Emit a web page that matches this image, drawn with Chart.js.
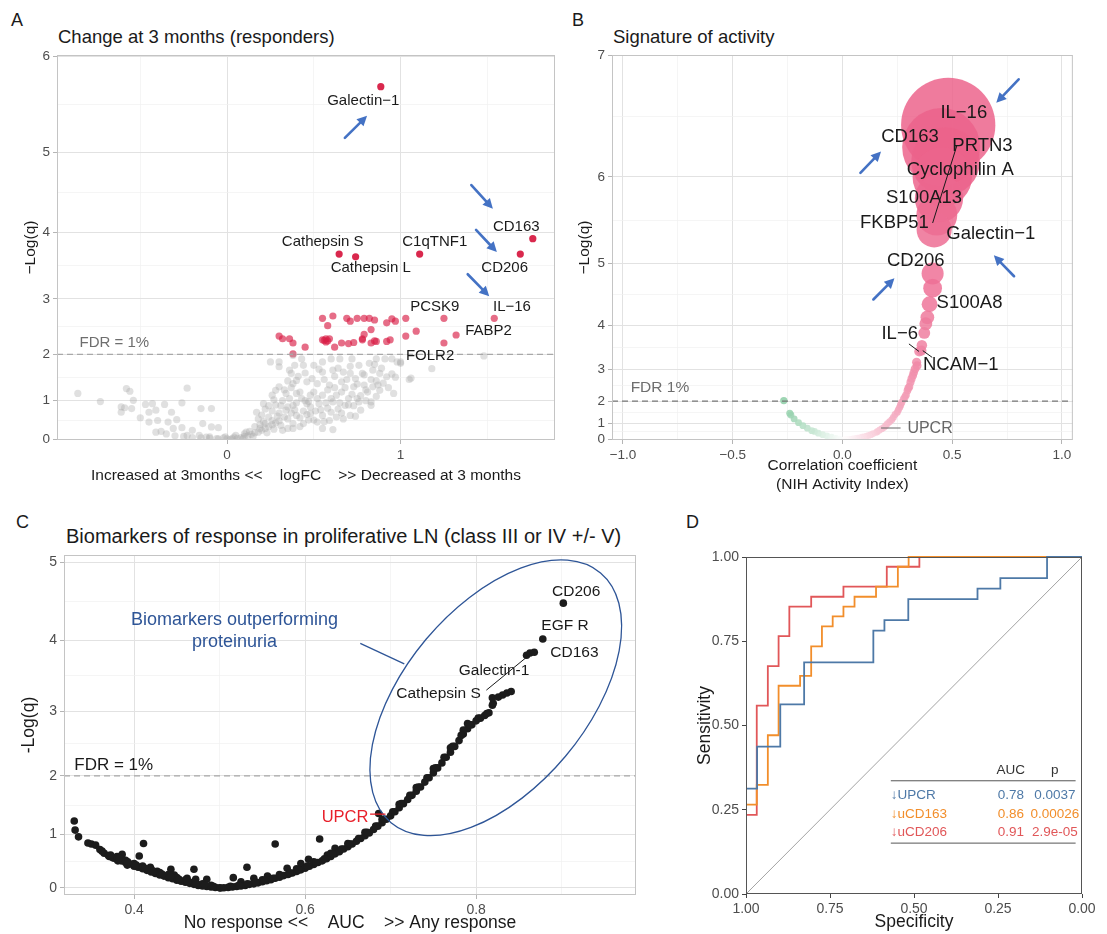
<!DOCTYPE html>
<html>
<head>
<meta charset="utf-8">
<script src="https://cdn.jsdelivr.net/npm/chart.js@4.4.1/dist/chart.umd.min.js"></script>
<style>
  body { margin: 0; background: #fff; width: 1107px; height: 934px; overflow: hidden; position: relative;
         font-family: "Liberation Sans", Arial, sans-serif; color: #1a1a1a; }
  canvas { position: absolute; }
  .lbl { position: absolute; white-space: nowrap; line-height: 1; }
</style>
</head>
<body>
<div class="lbl" style="left:11px;top:11px;font-size:18px">A</div>
<div class="lbl" style="left:58px;top:28px;font-size:18.5px">Change at 3 months (responders)</div>
<div class="lbl" style="left:572px;top:11px;font-size:18px">B</div>
<div class="lbl" style="left:613px;top:28px;font-size:18.5px">Signature of activity</div>
<div class="lbl" style="left:16px;top:513px;font-size:18px">C</div>
<div class="lbl" style="left:66px;top:526px;font-size:20px">Biomarkers of response in proliferative LN (class III or IV +/- V)</div>
<div class="lbl" style="left:686px;top:513px;font-size:18px">D</div>

<canvas id="A" width="560" height="500" style="left:0;top:0"></canvas>
<canvas id="B" width="560" height="500" style="left:560px;top:0"></canvas>
<canvas id="C" width="660" height="434" style="left:0;top:500px"></canvas>
<canvas id="D" width="447" height="434" style="left:660px;top:500px"></canvas>

<script>
// ---------- A: change at 3 months, [logFC, -log(q)] ----------
const aNonSig = [
  [-0.86,1.17],[-0.73,0.98],[-0.58,1.28],[-0.56,1.22],[-0.54,1.01],[-0.61,0.85],[-0.59,0.83],[-0.61,0.72],
  [-0.55,0.81],[-0.23,1.29],[-0.47,0.91],[-0.43,0.93],[-0.45,0.72],[-0.41,0.77],[-0.36,0.91],[-0.26,0.95],
  [-0.15,0.81],[-0.09,0.81],[-0.32,0.72],[-0.50,0.58],[-0.45,0.47],[-0.40,0.51],[-0.34,0.47],[-0.29,0.53],
  [-0.41,0.20],[-0.31,0.30],[-0.26,0.32],[-0.20,0.25],[-0.14,0.43],[-0.09,0.34],[-0.05,0.32],[-0.23,0.11],
  [-0.16,0.11],[-0.10,0.07],[-0.01,0.07],[0.05,0.11],[0.11,0.20],[0.19,0.30],[0.22,0.43],[0.17,0.72],
  [0.21,0.93],[0.26,1.13],[0.30,1.32],[0.25,1.85],[0.30,1.85],[0.30,1.75],[0.36,1.68],[0.37,1.61],
  [0.28,1.24],[0.34,1.17],[0.38,1.39],[0.34,0.77],[0.38,0.43],[0.26,0.51],[0.32,0.25],
  [0.38,1.98],[0.43,1.91],[0.39,1.78],[0.44,1.78],[0.50,1.78],[0.55,1.85],[0.60,1.91],[0.65,1.91],
  [0.72,1.91],[0.76,1.78],[0.82,1.82],[0.86,1.91],[0.91,1.91],[0.95,1.91],[0.98,1.85],[1.00,1.82],
  [1.18,1.71],[1.05,1.48],[1.48,1.97],[0.55,1.64],[0.61,1.68],[0.67,1.64],[0.71,1.61],[0.78,1.61],
  [0.84,1.68],[0.88,1.61],[0.92,1.54],[0.96,1.17],[0.40,1.46],[0.46,1.43],[0.52,1.39],[0.59,1.36],
  [0.66,1.43],[0.73,1.32],[0.79,1.36],[0.84,1.32],[0.88,1.24],[0.40,1.17],[0.48,1.13],[0.55,1.13],
  [0.63,1.13],[0.70,1.05],[0.76,0.97],[0.83,0.97],[0.38,0.89],[0.46,0.93],[0.53,0.93],[0.61,0.97],
  [0.68,0.89],[0.77,0.77],[0.83,0.89],[0.40,0.64],[0.48,0.69],[0.55,0.64],[0.63,0.60],[0.71,0.64],
  [0.74,0.62],[0.44,0.43],[0.52,0.47],[0.59,0.51],[0.38,0.30],[0.55,0.30],[0.61,0.27],
  [1.06,1.51],[0.97,1.53],[1.00,1.85],
  [-0.30,0.10],[-0.25,0.08],[-0.20,0.05],[-0.15,0.04],[-0.10,0.03],[-0.05,0.01],[0.00,0.01],[0.03,0.02],
  [0.06,0.03],[0.08,0.05],[0.10,0.08],[0.12,0.10],[0.14,0.14],[0.16,0.18],[0.18,0.20],[0.20,0.25],
  [0.22,0.30],[0.24,0.35],[0.26,0.40],[0.28,0.45],[0.30,0.50],[0.18,0.55],[0.20,0.65],[0.22,0.80],
  [0.24,0.60],[0.26,0.75],[0.28,0.90],[0.30,0.70],[0.32,1.00],[0.33,0.60],[0.35,0.85],[0.36,1.05],
  [0.40,0.95],[0.42,1.20],[0.44,0.75],[0.45,1.00],[0.48,0.85],[0.50,1.20],[0.52,1.05],[0.57,0.95],
  [0.58,1.25],[0.64,0.80],[0.66,1.20],[0.70,0.90],[0.72,1.15],[0.80,1.25],[0.86,1.10],[0.90,1.40],
  [0.95,1.60],[0.16,0.35],[0.13,0.22],[0.10,0.15],[-0.02,0.04],[0.04,0.06],[-0.35,0.15],[-0.38,0.22],
  [-0.12,0.06],[0.02,0.00],[-0.06,0.02],[0.09,0.02],[0.15,0.08],[0.23,0.18],[0.27,0.28],[0.31,0.38],
  [0.35,0.55],[0.37,0.70],[0.42,0.58],[0.46,0.66],[0.50,0.52],[0.54,0.78],[0.60,0.72],[0.67,0.55],
  [0.75,1.05],[0.80,1.00],[0.62,1.55],[0.68,1.30],[0.74,1.50],[0.86,1.45],
  [0.27,1.02],[0.29,0.62],[0.31,0.88],[0.33,1.25],[0.35,1.45],[0.37,1.30],[0.39,0.78],[0.41,1.55],
  [0.43,1.05],[0.45,1.62],[0.47,0.98],[0.49,1.50],[0.51,0.75],[0.53,1.70],[0.56,1.48],[0.58,0.82],
  [0.60,1.05],[0.62,1.30],[0.64,1.72],[0.66,0.70],[0.69,1.48],[0.71,1.76],[0.73,0.88],[0.75,1.38],
  [0.77,1.12],[0.79,1.58],[0.81,1.20],[0.83,1.48],[0.85,1.80],[0.87,1.36],[0.89,1.72],[0.93,1.30],
  [0.24,0.88],[0.21,0.48],[0.19,0.40],[0.35,0.30],[0.42,0.35],[0.47,0.52],[0.56,0.48],[0.65,0.95]
];
const aSig = [
  [0.55,2.67],[0.61,2.71],[0.69,2.67],[0.71,2.62],[0.75,2.67],[0.79,2.67],[0.82,2.67],[0.85,2.64],
  [0.92,2.59],[0.95,2.66],[0.97,2.62],[1.03,2.67],[1.25,2.67],[1.54,2.67],[0.58,2.54],[0.83,2.47],
  [0.79,2.38],[0.30,2.35],[0.32,2.30],[0.36,2.30],[0.38,2.22],[0.45,2.14],[0.55,2.28],[0.57,2.24],
  [0.58,2.26],[0.59,2.30],[0.62,2.14],[0.66,2.22],[0.70,2.21],[0.73,2.23],[0.78,2.30],[0.78,2.28],
  [0.83,2.22],[0.85,2.26],[0.86,2.25],[0.92,2.25],[0.94,2.28],[1.03,2.35],[1.09,2.44],[1.25,2.22],
  [1.32,2.37],[0.38,2.01],[0.56,2.27],[0.57,2.30]
];
// Galectin-1, CD163, CD206, C1qTNF1, Cathepsin S, Cathepsin L
const aTop = [[0.886,5.70],[1.762,3.91],[1.69,3.69],[1.11,3.69],[0.646,3.69],[0.741,3.65]];
const aXTicks = [-0.5, 0, 0.5, 1, 1.5];
const aXLabelled = [0, 1];

// ---------- B: correlation with NIH activity index, [r, -log(q)] ----------
const bPositive = [
  [0.482,6.47],[0.45,6.28],[0.47,6.15],[0.455,6.0],[0.44,5.78],[0.43,5.6],[0.418,5.43],[0.411,4.86],
  [0.411,4.64],[0.397,4.38],[0.387,4.15],[0.38,4.03],[0.373,3.85],[0.362,3.59],[0.36,3.47],[0.35,3.45],
  [0.338,3.19],[0.34,3.1],[0.331,3.02],[0.325,2.92],[0.321,2.83],[0.315,2.74],[0.31,2.64],[0.305,2.5],
  [0.30,2.45],[0.296,2.37],[0.29,2.22],[0.285,2.15],[0.279,2.08],[0.27,1.95],[0.265,1.85],[0.261,1.76],
  [0.255,1.65],[0.25,1.55],[0.24,1.45],[0.232,1.31],[0.225,1.2],[0.215,1.1],[0.205,1.0],[0.197,0.89],
  [0.19,0.8],[0.18,0.72],[0.17,0.65],[0.16,0.56],[0.155,0.50],[0.14,0.42],[0.13,0.35],[0.12,0.3],
  [0.11,0.26],[0.098,0.21],[0.09,0.18],[0.08,0.14],[0.07,0.11],[0.06,0.08],[0.05,0.06],[0.042,0.05],
  [0.03,0.03],[0.02,0.02],[0.01,0.01]
];
const bNegative = [
  [-0.267,2.02],[-0.24,1.50],[-0.235,1.42],[-0.22,1.24],[-0.20,1.05],[-0.18,0.89],[-0.16,0.75],
  [-0.14,0.60],[-0.127,0.56],[-0.11,0.45],[-0.09,0.35],[-0.071,0.28],[-0.05,0.18],[-0.03,0.10],[-0.014,0.05]
];
const bXTicks = [-1, -0.75, -0.5, -0.25, 0, 0.25, 0.5, 0.75, 1];
const bXLabelled = [-1, -0.5, 0, 0.5, 1];

// ---------- C: AUC for response, [AUC, -log(q)] ----------
const cPoints = [
  [0.330,1.24],[0.331,1.08],[0.335,0.96],[0.346,0.85],[0.350,0.83],[0.355,0.81],[0.360,0.73],[0.371,0.60],
  [0.377,0.57],[0.386,0.64],[0.411,0.84],[0.406,0.61],[0.381,0.52],[0.392,0.44],[0.404,0.41],[0.419,0.40],
  [0.427,0.32],[0.443,0.36],[0.447,0.25],[0.470,0.36],[0.462,0.19],[0.472,0.17],[0.485,0.17],[0.478,0.06],
  [0.501,0.00],[0.516,0.20],[0.525,0.12],[0.532,0.40],[0.540,0.19],[0.556,0.23],[0.565,0.83],[0.579,0.38],
  [0.595,0.47],[0.604,0.55],[0.617,0.92],[0.626,0.63],[0.635,0.75],
  [0.365,0.66],[0.37,0.62],[0.375,0.58],[0.38,0.55],[0.385,0.52],[0.39,0.49],[0.395,0.46],[0.40,0.42],
  [0.405,0.40],[0.41,0.37],[0.415,0.34],[0.42,0.31],[0.425,0.28],[0.43,0.25],[0.435,0.23],[0.44,0.20],
  [0.445,0.18],[0.45,0.15],[0.455,0.13],[0.46,0.11],[0.465,0.09],[0.47,0.07],[0.475,0.05],[0.48,0.04],
  [0.485,0.03],[0.49,0.02],[0.495,0.01],[0.50,0.005],
  [0.38,0.60],[0.39,0.53],[0.40,0.47],[0.41,0.42],[0.42,0.36],[0.43,0.30],[0.44,0.26],[0.45,0.20],
  [0.46,0.16],[0.47,0.12],[0.48,0.08],[0.49,0.05],
  [0.3625,0.70],[0.3725,0.63],[0.3825,0.57],[0.3925,0.50],[0.4025,0.44],[0.4125,0.38],[0.4225,0.32],
  [0.4325,0.27],[0.4425,0.22],[0.4525,0.17],[0.4625,0.13],[0.4725,0.09],[0.4825,0.06],[0.4925,0.03],
  [0.505,0.005],[0.51,0.01],[0.515,0.02],[0.52,0.03],[0.525,0.04],[0.53,0.05],[0.535,0.07],[0.54,0.08],
  [0.545,0.10],[0.55,0.12],[0.555,0.14],[0.56,0.16],[0.565,0.19],[0.57,0.21],[0.575,0.24],[0.58,0.26],
  [0.585,0.29],[0.59,0.32],[0.595,0.35],[0.60,0.38],[0.605,0.42],[0.61,0.45],[0.615,0.49],[0.62,0.52],
  [0.625,0.56],[0.63,0.60],[0.635,0.65],[0.64,0.69],[0.645,0.74],[0.65,0.78],[0.655,0.83],[0.66,0.88],
  [0.665,0.93],[0.67,0.98],[0.675,1.03],[0.68,1.09],[0.685,1.15],[0.69,1.21],[0.695,1.27],[0.70,1.33],
  [0.705,1.40],[0.71,1.47],[0.715,1.54],[0.72,1.61],[0.725,1.68],[0.73,1.75],[0.735,1.82],[0.74,1.90],
  [0.745,1.97],[0.75,2.05],[0.755,2.13],[0.76,2.21],[0.765,2.30],[0.77,2.38],[0.775,2.47],[0.78,2.56],
  [0.785,2.66],[0.79,2.74],[0.795,2.80],[0.80,2.86],[0.805,2.90],[0.81,2.94],[0.815,2.98],
  [0.55,0.16],[0.57,0.26],[0.59,0.37],[0.61,0.50],[0.63,0.66],[0.65,0.84],[0.67,1.04],[0.69,1.27],
  [0.71,1.53],[0.73,1.81],[0.75,2.12],[0.77,2.45],[0.785,2.72],[0.79,2.82],
  [0.5125,0.03],[0.5225,0.05],[0.5325,0.08],[0.5425,0.11],[0.5525,0.15],[0.5625,0.19],[0.5725,0.24],
  [0.5825,0.29],[0.5925,0.35],[0.6025,0.42],[0.6125,0.49],[0.6225,0.56],[0.6325,0.65],[0.6425,0.74],
  [0.6525,0.83],[0.6625,0.93],[0.6725,1.04],[0.6825,1.15],[0.6925,1.27],[0.7025,1.40],[0.7125,1.54],
  [0.7225,1.68],[0.7325,1.82],[0.7425,1.97],[0.7525,2.13],[0.7625,2.30],[0.7725,2.47],[0.7825,2.64],
  [0.7925,2.80],[0.8025,2.90],[0.8125,2.97],
  [0.686,1.37],
  [0.819,3.09],[0.82,3.12],[0.819,3.20],[0.826,3.21],[0.831,3.24],[0.836,3.27],[0.841,3.29],
  [0.859,3.80],[0.863,3.83],[0.868,3.84],[0.878,4.02],[0.902,4.49]
];
const cXTicks = [0.4, 0.5, 0.6, 0.7, 0.8, 0.9];
const cXLabelled = [0.4, 0.6, 0.8];

// ---------- D: ROC curves (specificity, sensitivity) ----------
const upcrSpec = [1,0.967,0.967,0.898,0.898,0.827,0.827,0.621,0.621,0.588,0.588,0.517,0.517,0.311,0.311,0.243,0.243,0.104,0.104,0];
const upcrSens = [0.3125,0.3125,0.4375,0.4375,0.5625,0.5625,0.6875,0.6875,0.78125,0.78125,0.8125,0.8125,0.875,0.875,0.90625,0.90625,0.9375,0.9375,1,1];
const cd163Spec = [1,0.968,0.968,0.935,0.935,0.903,0.903,0.839,0.839,0.806,0.806,0.774,0.774,0.742,0.742,0.710,0.710,0.677,0.677,0.613,0.613,0.548,0.548,0.516,0.516,0];
const cd163Sens = [0.265,0.265,0.324,0.324,0.471,0.471,0.618,0.618,0.647,0.647,0.735,0.735,0.794,0.794,0.824,0.824,0.853,0.853,0.882,0.882,0.912,0.912,0.971,0.971,1,1];
const cd206Spec = [1,0.968,0.968,0.935,0.935,0.903,0.903,0.871,0.871,0.806,0.806,0.710,0.710,0.581,0.581,0.484,0.484,0];
const cd206Sens = [0.235,0.235,0.559,0.559,0.676,0.676,0.765,0.765,0.853,0.853,0.882,0.882,0.912,0.912,0.971,0.971,1,1];
const rocNames = ['↓UPCR', '↓uCD163', '↓uCD206'];
const rocAUC = ['0.78', '0.86', '0.91'];
const rocP = ['0.0037', '0.00026', '2.9e-05'];
const rocColors = ['#4e79a7', '#f28e2b', '#e15759'];

// ---------- helpers ----------
Chart.defaults.font.family = '"Liberation Sans", Arial, sans-serif';
const FONT = '"Liberation Sans", Arial, sans-serif';
const TICK_COL = '#4d4d4d';

// y axes of A, B, C use an exponential transform (like a ggplot custom trans)
function makeExpScale(id, base) {
  const lb = Math.log(base);
  const fwd = v => Math.pow(base, v) - 1;
  class ExpScale extends Chart.LinearScale {
    buildTicks() {
      const ticks = [];
      for (let k = Math.ceil(this.min); k <= Math.floor(this.max); k++) {
        ticks.push({ value: k });
        if (k + 1 <= this.max) ticks.push({ value: Math.log((fwd(k) + fwd(k + 1)) / 2 + 1) / lb, minor: true });
      }
      return ticks;
    }
    getPixelForValue(v) {
      const a = fwd(this.min), b = fwd(this.max);
      return this.getPixelForDecimal((fwd(v) - a) / (b - a));
    }
    getValueForPixel(px) {
      const a = fwd(this.min), b = fwd(this.max);
      return Math.log(a + this.getDecimalForPixel(px) * (b - a) + 1) / lb;
    }
  }
  ExpScale.id = id;
  ExpScale.defaults = {};
  Chart.register(ExpScale);
}
makeExpScale('expA', 1.2);
makeExpScale('expB', 1.4);
makeExpScale('expC', 1.1);

function gridOpts() {
  return {
    color: c => (c.tick && c.tick.minor) ? '#f0f0f0' : '#e2e2e2',
    lineWidth: c => (c.tick && c.tick.minor) ? 0.7 : 1,
    tickColor: c => (c.tick && c.tick.minor) ? 'rgba(0,0,0,0)' : '#b5b5b5',
    tickLength: 4
  };
}
const fixedTicks = (vals, labelled) => s => { s.ticks = vals.map(v => ({ value: v, minor: !labelled.includes(v) })); };
const tickLabel = fmt => (v, i, t) => t[i].minor ? '' : fmt(v);

function notes(items) {
  const draw = (chart, under) => {
    const { ctx, chartArea: ca, scales } = chart;
    const X = v => scales.x.getPixelForValue(v), Y = v => scales.y.getPixelForValue(v);
    ctx.save();
    for (const it of items) {
      if (!!it.under !== under) continue;
      ctx.strokeStyle = it.color || '#1a1a1a';
      ctx.fillStyle = it.color || '#1a1a1a';
      ctx.lineWidth = it.width || 1;
      ctx.setLineDash(it.dash || []);
      if (it.type === 'frame') {
        ctx.strokeRect(ca.left + 0.5, ca.top + 0.5, ca.right - ca.left - 1, ca.bottom - ca.top - 1);
      } else if (it.type === 'hline') {
        ctx.beginPath(); ctx.moveTo(ca.left, Y(it.y)); ctx.lineTo(ca.right, Y(it.y)); ctx.stroke();
      } else if (it.type === 'seg') {
        ctx.beginPath(); ctx.moveTo(X(it.x1), Y(it.y1)); ctx.lineTo(X(it.x2), Y(it.y2)); ctx.stroke();
      } else if (it.type === 'arrow') {
        const x1 = X(it.x1), y1 = Y(it.y1), x2 = X(it.x2), y2 = Y(it.y2);
        const ang = Math.atan2(y2 - y1, x2 - x1), hl = 10, hw = 5;
        const bx = x2 - hl * Math.cos(ang), by = y2 - hl * Math.sin(ang);
        ctx.lineCap = 'round';
        ctx.beginPath(); ctx.moveTo(x1, y1); ctx.lineTo(bx, by); ctx.stroke();
        ctx.beginPath(); ctx.moveTo(x2, y2);
        ctx.lineTo(bx + hw * Math.sin(ang), by - hw * Math.cos(ang));
        ctx.lineTo(bx - hw * Math.sin(ang), by + hw * Math.cos(ang));
        ctx.closePath(); ctx.fill();
      } else if (it.type === 'ellipse') {
        ctx.beginPath();
        ctx.ellipse(X(it.x), Y(it.y), it.rx, it.ry, it.rot * Math.PI / 180, 0, Math.PI * 2);
        ctx.stroke();
      } else if (it.type === 'text') {
        ctx.font = (it.size || 15) + 'px ' + FONT;
        ctx.textAlign = it.align || 'center';
        ctx.textBaseline = 'middle';
        ctx.fillText(it.text, X(it.x), Y(it.y));
      }
    }
    ctx.restore();
  };
  return {
    id: 'notes',
    beforeDatasetsDraw: chart => draw(chart, true),
    afterDatasetsDraw: chart => draw(chart, false)
  };
}

const base = {
  responsive: false, maintainAspectRatio: false, animation: false, events: [],
  plugins: { legend: { display: false }, tooltip: { enabled: false } }
};
const tickFont = size => ({ color: TICK_COL, font: { size }, autoSkip: false, maxRotation: 0, padding: 3 });

// ---------- chart A ----------
const BLUE_ARROW = '#4472c4';
new Chart(document.getElementById('A'), {
  type: 'scatter',
  data: {
    datasets: [
      { data: aNonSig.map(([x, y]) => ({ x, y })), backgroundColor: 'rgba(170,170,170,0.36)',
        pointRadius: 3.6, pointBorderWidth: 0 },
      { data: aSig.concat(aTop).map(([x, y]) => ({ x, y })),
        backgroundColor: c => c.raw && c.raw.y > 3.5 ? 'rgba(214,22,62,0.92)' : 'rgba(216,30,70,0.65)',
        pointRadius: 3.6, pointBorderWidth: 0 }
    ]
  },
  options: {
    ...base,
    layout: { padding: { left: 0, top: 55, right: 5, bottom: 0 } },
    scales: {
      x: {
        type: 'linear', min: -0.98, max: 1.89,
        afterBuildTicks: fixedTicks(aXTicks, aXLabelled), afterFit: s => { s.height = 60; },
        grid: gridOpts(), border: { display: false },
        ticks: { ...tickFont(13.5), callback: tickLabel(v => String(v)) },
        title: { display: true, text: 'Increased at 3months <<    logFC    >> Decreased at 3 months',
                 font: { size: 15.5 }, color: '#1a1a1a', padding: { top: 0, bottom: 15 } }
      },
      y: {
        type: 'expA', min: -0.02, max: 6.01, afterFit: s => { s.width = 57; },
        grid: gridOpts(), border: { display: false },
        ticks: { ...tickFont(13.5), callback: tickLabel(v => String(Math.round(v))) },
        title: { display: true, text: '−Log(q)', font: { size: 15.5 }, color: '#1a1a1a', padding: { top: 21, bottom: 0 } }
      }
    }
  },
  plugins: [notes([
    { type: 'hline', y: 2, color: '#a8a8a8', dash: [6, 4], width: 1.3 },
    { type: 'text', x: -0.85, y: 2.22, text: 'FDR = 1%', color: '#6e6e6e', size: 15, align: 'left' },
    { type: 'text', x: 0.785, y: 5.56, text: 'Galectin−1' },
    { type: 'text', x: 1.667, y: 4.07, text: 'CD163' },
    { type: 'text', x: 0.551, y: 3.86, text: 'Cathepsin S' },
    { type: 'text', x: 1.197, y: 3.86, text: 'C1qTNF1' },
    { type: 'text', x: 0.828, y: 3.48, text: 'Cathepsin L' },
    { type: 'text', x: 1.60, y: 3.48, text: 'CD206' },
    { type: 'text', x: 1.197, y: 2.87, text: 'PCSK9' },
    { type: 'text', x: 1.642, y: 2.87, text: 'IL−16' },
    { type: 'text', x: 1.507, y: 2.44, text: 'FABP2' },
    { type: 'text', x: 1.17, y: 1.98, text: 'FOLR2' },
    { type: 'arrow', x1: 0.679, y1: 5.16, x2: 0.807, y2: 5.40, color: BLUE_ARROW, width: 2.6 },
    { type: 'arrow', x1: 1.408, y1: 4.61, x2: 1.532, y2: 4.31, color: BLUE_ARROW, width: 2.6 },
    { type: 'arrow', x1: 1.435, y1: 4.03, x2: 1.555, y2: 3.72, color: BLUE_ARROW, width: 2.6 },
    { type: 'arrow', x1: 1.387, y1: 3.39, x2: 1.511, y2: 3.04, color: BLUE_ARROW, width: 2.6 },
    { type: 'frame', color: '#c4c4c4' }
  ])]
});

// ---------- chart B ----------
const bubbleR = v => 3.3 + 0.041 * Math.exp(1.078 * v);   // size scale
function corrColor(c) {
  const rgb = c >= 0 ? [236, 100, 140] : [140, 205, 165];
  const t = c >= 0 ? Math.min(1, c / 0.45) : Math.min(1, -c / 0.27);
  const m = k => Math.round(255 + (k - 255) * t);
  return `rgba(${m(rgb[0])},${m(rgb[1])},${m(rgb[2])},0.85)`;
}
new Chart(document.getElementById('B'), {
  type: 'bubble',
  data: {
    datasets: [{
      data: bPositive.concat(bNegative).map(([x, y]) => ({ x, y, r: bubbleR(y) })),
      backgroundColor: c => c.raw ? corrColor(c.raw.x) : '#f08',
      borderWidth: 0
    }]
  },
  options: {
    ...base,
    layout: { padding: { left: 0, top: 55, right: 11, bottom: 0 } },
    scales: {
      x: {
        type: 'linear', min: -1.05, max: 1.05,
        afterBuildTicks: fixedTicks(bXTicks, bXLabelled), afterFit: s => { s.height = 60; },
        grid: gridOpts(), border: { display: false },
        ticks: { ...tickFont(13.5), callback: tickLabel(v => (v < 0 ? '−' : '') + Math.abs(v).toFixed(1)) },
        title: { display: true, text: ['Correlation coefficient', '(NIH Activity Index)'],
                 font: { size: 15.5 }, color: '#1a1a1a', padding: { top: 0, bottom: 6 } }
      },
      y: {
        type: 'expB', min: -0.02, max: 7.005, afterFit: s => { s.width = 52; },
        grid: gridOpts(), border: { display: false },
        ticks: { ...tickFont(13.5), callback: tickLabel(v => String(Math.round(v))) },
        title: { display: true, text: '−Log(q)', font: { size: 15.5 }, color: '#1a1a1a', padding: { top: 15, bottom: 0 } }
      }
    }
  },
  plugins: [notes([
    { type: 'hline', y: 2, color: '#777', dash: [6, 4], width: 1.3 },
    { type: 'text', x: -0.965, y: 2.46, text: 'FDR 1%', color: '#6e6e6e', size: 15.5, align: 'left' },
    { type: 'seg', x1: 0.521, y1: 6.29, x2: 0.411, y2: 5.51 },
    { type: 'seg', x1: 0.303, y1: 3.62, x2: 0.349, y2: 3.45 },
    { type: 'seg', x1: 0.366, y1: 3.47, x2: 0.409, y2: 3.31 },
    { type: 'seg', x1: 0.176, y1: 0.76, x2: 0.265, y2: 0.76, color: '#666' },
    { type: 'text', x: 0.553, y: 6.57, text: 'IL−16', size: 18.5 },
    { type: 'text', x: 0.308, y: 6.37, text: 'CD163', size: 18.5 },
    { type: 'text', x: 0.638, y: 6.29, text: 'PRTN3', size: 18.5 },
    { type: 'text', x: 0.537, y: 6.07, text: 'Cyclophilin A', size: 18.5 },
    { type: 'text', x: 0.372, y: 5.79, text: 'S100A13', size: 18.5 },
    { type: 'text', x: 0.237, y: 5.51, text: 'FKBP51', size: 18.5 },
    { type: 'text', x: 0.676, y: 5.38, text: 'Galectin−1', size: 18.5 },
    { type: 'text', x: 0.334, y: 5.03, text: 'CD206', size: 18.5 },
    { type: 'text', x: 0.579, y: 4.40, text: 'S100A8', size: 18.5 },
    { type: 'text', x: 0.261, y: 3.84, text: 'IL−6', size: 18.5 },
    { type: 'text', x: 0.539, y: 3.11, text: 'NCAM−1', size: 18.5 },
    { type: 'text', x: 0.296, y: 0.70, text: 'UPCR', size: 16, color: '#666', align: 'left' },
    { type: 'arrow', x1: 0.803, y1: 6.83, x2: 0.701, y2: 6.65, color: BLUE_ARROW, width: 2.6 },
    { type: 'arrow', x1: 0.082, y1: 6.04, x2: 0.176, y2: 6.24, color: BLUE_ARROW, width: 2.6 },
    { type: 'arrow', x1: 0.782, y1: 4.82, x2: 0.690, y2: 5.11, color: BLUE_ARROW, width: 2.6 },
    { type: 'arrow', x1: 0.141, y1: 4.46, x2: 0.237, y2: 4.79, color: BLUE_ARROW, width: 2.6 },
    { type: 'frame', color: '#c4c4c4' }
  ])]
});

// ---------- chart C ----------
const NAVY = '#2e5597';
new Chart(document.getElementById('C'), {
  type: 'scatter',
  data: {
    datasets: [{ data: cPoints.map(([x, y]) => ({ x, y })), backgroundColor: '#1c1c1c',
                 pointRadius: 3.8, pointBorderWidth: 0 }]
  },
  options: {
    ...base,
    layout: { padding: { left: 0, top: 55, right: 24, bottom: 0 } },
    scales: {
      x: {
        type: 'linear', min: 0.318, max: 0.987,
        afterBuildTicks: fixedTicks(cXTicks, cXLabelled), afterFit: s => { s.height = 39; },
        grid: gridOpts(), border: { display: false },
        ticks: { ...tickFont(14), callback: tickLabel(v => v.toFixed(1)) },
        title: { display: true, text: 'No response <<    AUC    >> Any response',
                 font: { size: 17.5 }, color: '#1a1a1a', padding: { top: 0, bottom: 0 } }
      },
      y: {
        type: 'expC', min: -0.14, max: 5.09, afterFit: s => { s.width = 64; },
        grid: gridOpts(), border: { display: false },
        ticks: { ...tickFont(14), callback: tickLabel(v => String(Math.round(v))) },
        title: { display: true, text: '-Log(q)', font: { size: 17.5 }, color: '#1a1a1a', padding: { top: 19, bottom: 0 } }
      }
    }
  },
  plugins: [notes([
    { type: 'hline', y: 2, color: '#a8a8a8', dash: [6, 4], width: 1.3, under: true },
    { type: 'text', x: 0.33, y: 2.17, text: 'FDR = 1%', size: 17, align: 'left' },
    { type: 'ellipse', x: 0.823, y: 3.20, rx: 163, ry: 91, rot: -50, color: NAVY, width: 1.3 },
    { type: 'seg', x1: 0.6645, y1: 3.96, x2: 0.716, y2: 3.68, color: NAVY, width: 1.3 },
    { type: 'text', x: 0.5175, y: 4.27, text: 'Biomarkers outperforming', size: 18, color: NAVY },
    { type: 'text', x: 0.5175, y: 3.98, text: 'proteinuria', size: 18, color: NAVY },
    { type: 'seg', x1: 0.812, y1: 3.31, x2: 0.865, y2: 3.83 },
    { type: 'text', x: 0.917, y: 4.64, text: 'CD206', size: 15.5 },
    { type: 'text', x: 0.904, y: 4.19, text: 'EGF R', size: 15.5 },
    { type: 'text', x: 0.915, y: 3.84, text: 'CD163', size: 15.5 },
    { type: 'text', x: 0.821, y: 3.59, text: 'Galectin-1', size: 15.5 },
    { type: 'text', x: 0.756, y: 3.26, text: 'Cathepsin S', size: 15.5 },
    { type: 'seg', x1: 0.676, y1: 1.36, x2: 0.694, y2: 1.36, color: '#e8202a', width: 1.3 },
    { type: 'text', x: 0.674, y: 1.31, text: 'UPCR', size: 16.5, color: '#e8202a', align: 'right' },
    { type: 'frame', color: '#c4c4c4' }
  ])]
});

// ---------- chart D ----------
const rocSets = [[upcrSpec, upcrSens], [cd163Spec, cd163Sens], [cd206Spec, cd206Sens]];
const tableRows = [0.294, 0.238, 0.182];
const tableNotes = [
  { type: 'seg', x1: 1, y1: 0, x2: 0, y2: 1, color: '#8c8c8c', width: 0.8, under: true },
  { type: 'text', x: 0.212, y: 0.368, text: 'AUC', size: 13.5, color: '#333' },
  { type: 'text', x: 0.081, y: 0.368, text: 'p', size: 13.5, color: '#333' },
  { type: 'seg', x1: 0.569, y1: 0.336, x2: 0.019, y2: 0.336, color: '#555' },
  { type: 'seg', x1: 0.569, y1: 0.151, x2: 0.019, y2: 0.151, color: '#555' },
  { type: 'frame', color: '#555' }
];
rocNames.forEach((name, i) => {
  tableNotes.push({ type: 'text', x: 0.569, y: tableRows[i], text: name, size: 13.5, color: rocColors[i], align: 'left' });
  tableNotes.push({ type: 'text', x: 0.212, y: tableRows[i], text: rocAUC[i], size: 13.5, color: rocColors[i] });
  tableNotes.push({ type: 'text', x: 0.081, y: tableRows[i], text: rocP[i], size: 13.5, color: rocColors[i] });
});
new Chart(document.getElementById('D'), {
  type: 'scatter',
  data: {
    datasets: rocSets.map(([sp, se], i) => ({
      data: sp.map((x, k) => ({ x, y: se[k] })),
      showLine: true, borderColor: rocColors[i], borderWidth: 1.8, pointRadius: 0, tension: 0, clip: false
    }))
  },
  options: {
    ...base,
    layout: { padding: { left: 0, top: 57, right: 25, bottom: 0 } },
    scales: {
      x: {
        type: 'linear', min: 0, max: 1, reverse: true,
        afterBuildTicks: s => { s.ticks = [0, 0.25, 0.5, 0.75, 1].map(value => ({ value })); },
        afterFit: s => { s.height = 40; },
        grid: { drawOnChartArea: false, tickLength: 4, tickColor: '#444' }, border: { display: false },
        ticks: { ...tickFont(14), callback: v => v.toFixed(2) },
        title: { display: true, text: 'Specificity', font: { size: 17.5 }, color: '#1a1a1a', padding: { top: 0, bottom: 1 } }
      },
      y: {
        type: 'linear', min: 0, max: 1,
        afterBuildTicks: s => { s.ticks = [0, 0.25, 0.5, 0.75, 1].map(value => ({ value })); },
        afterFit: s => { s.width = 86; },
        grid: { drawOnChartArea: false, tickLength: 4, tickColor: '#444' }, border: { display: false },
        ticks: { ...tickFont(14), callback: v => v.toFixed(2) },
        title: { display: true, text: 'Sensitivity', font: { size: 17.5 }, color: '#1a1a1a', padding: { top: 35, bottom: 0 } }
      }
    }
  },
  plugins: [notes(tableNotes)]
});
</script>
</body>
</html>
